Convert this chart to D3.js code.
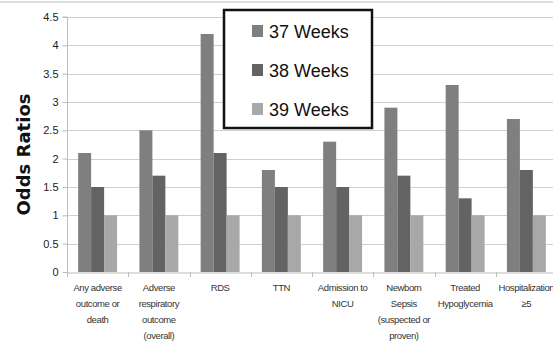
<!DOCTYPE html>
<html>
<head>
<meta charset="utf-8">
<script src="https://cdn.jsdelivr.net/npm/d3@7"></script>
<style>
  html, body { margin: 0; padding: 0; background: #fff; }
  svg { display: block; }
</style>
</head>
<body>
<svg id="chart" width="553" height="341"></svg>
<script>
// Outcome categories (multi-line labels)
const categories = [
  ["Any adverse", "outcome or", "death"],
  ["Adverse", "respiratory", "outcome", "(overall)"],
  ["RDS"],
  ["TTN"],
  ["Admission to", "NICU"],
  ["Newborn", "Sepsis", "(suspected or", "proven)"],
  ["Treated", "Hypoglycemia"],
  ["Hospitalization", "\u22655"]
];
const seriesNames = ["37 Weeks", "38 Weeks", "39 Weeks"];
const weeks37 = [2.1, 2.5, 4.2, 1.8, 2.3, 2.9, 3.3, 2.7];
const weeks38 = [1.5, 1.7, 2.1, 1.5, 1.5, 1.7, 1.3, 1.8];
const weeks39 = [1, 1, 1, 1, 1, 1, 1, 1];
const yTicks = [0, 0.5, 1, 1.5, 2, 2.5, 3, 3.5, 4, 4.5];
const colors = ["#7f7f7f", "#636363", "#a8a8a8"];

const series = [weeks37, weeks38, weeks39];
const svg = d3.select("#chart");
const sans = "'Liberation Sans', Arial, sans-serif";

const x0 = 67, x1 = 557, yTop = 17, yBot = 272;

const x = d3.scaleBand().domain(d3.range(categories.length)).range([x0, x1]).paddingInner(0).paddingOuter(0);
const xs = d3.scaleBand().domain(d3.range(3)).range([0, x.bandwidth()]).paddingOuter(0.86).paddingInner(0);
const y = d3.scaleLinear().domain([0, 4.5]).range([yBot, yTop]);

// top border line
svg.append("line").attr("x1", 0).attr("x2", 553).attr("y1", 2).attr("y2", 2)
  .attr("stroke", "#d4d4d4").attr("stroke-width", 1.5);

// gridlines
svg.append("g").selectAll("line").data(yTicks.filter(d => d > 0)).join("line")
  .attr("x1", x0).attr("x2", 553)
  .attr("y1", d => Math.round(y(d)) + 0.5).attr("y2", d => Math.round(y(d)) + 0.5)
  .attr("stroke", "#cfcfcf").attr("stroke-width", 1);

// y axis
const yAxis = d3.axisLeft(y).tickValues(yTicks).tickFormat(d3.format("")).tickSize(5).tickPadding(4);
const gy = svg.append("g").attr("transform", `translate(${x0 + 0.5},0)`).call(yAxis);
gy.select(".domain").attr("stroke", "#bdbdbd").attr("d", `M-5,${y(4.5)}H0V${yBot}`);
gy.selectAll(".tick line").attr("stroke", "#bdbdbd");
gy.selectAll("text").attr("font-family", sans).attr("font-size", 11).attr("fill", "#222");

// x axis
const xAxis = d3.axisBottom(x).tickSize(0).tickFormat("");
const gx = svg.append("g").attr("transform", `translate(0,${yBot + 0.5})`).call(xAxis);
gx.select(".domain").attr("stroke", "#bdbdbd");
svg.append("g").selectAll("line").data(d3.range(categories.length + 1)).join("line")
  .attr("x1", i => Math.round(x0 + i * x.bandwidth()) + 0.5)
  .attr("x2", i => Math.round(x0 + i * x.bandwidth()) + 0.5)
  .attr("y1", yBot).attr("y2", yBot + 5)
  .attr("stroke", "#bdbdbd");

// bars
const groups = svg.append("g").selectAll("g").data(categories).join("g")
  .attr("transform", (d, i) => `translate(${x(i)},0)`);
groups.selectAll("rect").data((d, i) => series.map((s, k) => ({ k, v: s[i] }))).join("rect")
  .attr("x", d => xs(d.k))
  .attr("width", xs.bandwidth())
  .attr("y", d => y(d.v))
  .attr("height", d => yBot - y(d.v))
  .attr("fill", d => colors[d.k]);

// category labels (slightly condensed)
groups.append("text")
  .attr("x", x.bandwidth() / 2)
  .attr("y", yBot + 19)
  .attr("text-anchor", "middle")
  .attr("font-family", sans).attr("font-size", 9.5).attr("fill", "#333")
  .attr("letter-spacing", -0.4)
  .selectAll("tspan").data(d => d).join("tspan")
  .attr("x", x.bandwidth() / 2)
  .attr("dy", (d, i) => i === 0 ? 0 : 16)
  .text(d => d);

// y axis title
svg.append("text")
  .attr("transform", `translate(30,${(yTop + yBot) / 2 + 10}) rotate(-90)`)
  .attr("text-anchor", "middle")
  .attr("font-family", "'DejaVu Sans', sans-serif").attr("font-weight", "bold")
  .attr("font-size", 18).attr("fill", "#111")
  .text("Odds Ratios");

// legend
const lg = svg.append("g");
lg.append("rect").attr("x", 224).attr("y", 10).attr("width", 148).attr("height", 118)
  .attr("fill", "#fff").attr("stroke", "#111").attr("stroke-width", 2.5);
const items = lg.selectAll("g").data(seriesNames).join("g")
  .attr("transform", (d, i) => `translate(252,${31 + i * 39})`);
items.append("rect").attr("x", 0).attr("y", -6).attr("width", 11).attr("height", 12)
  .attr("fill", (d, i) => colors[i]);
items.append("text").attr("x", 17).attr("y", 7)
  .attr("font-family", sans).attr("font-size", 18).attr("fill", "#111")
  .text(d => d);
</script>
</body>
</html>
